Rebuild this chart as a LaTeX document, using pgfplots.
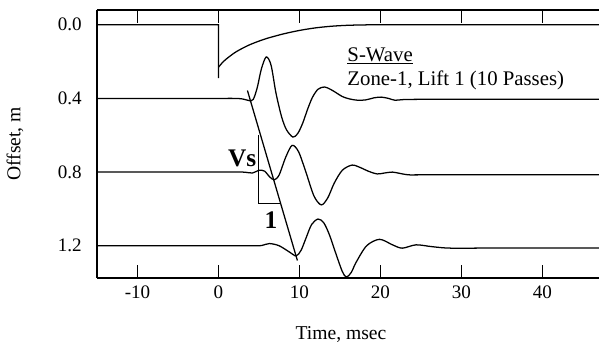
\documentclass[border=0pt]{standalone}
\usepackage{fontspec}
\setmainfont{Liberation Serif}
\usepackage{pgfplots}
\pgfplotsset{compat=1.18}
\begin{document}
\begin{tikzpicture}
\begin{axis}[
  name=ax,
  scale only axis,
  width=376.5pt, height=201pt,
  xmin=-15, xmax=47, ymin=-0.08, ymax=1.375,
  y dir=reverse,
  axis x line=box, axis y line=left,
  every non boxed y axis/.style={},
  y axis line style={-},
  xtick={-10,0,10,20,30,40}, xticklabels={-10,0,10,20,30,40},
  ytick={0,0.4,0.8,1.2}, yticklabels={0.0,0.4,0.8,1.2},
  tick align=inside,
  xtick pos=both,
  major tick length=9.75pt,
  ytick style={draw=none},
  xtick style={line width=1.1pt, black},
  axis line style={line width=1.3pt, black},
  xticklabel style={font=\fontsize{14.3}{16}\selectfont, anchor=base, inner sep=0pt, yshift=-15pt},
  yticklabel style={font=\fontsize{14.3}{16}\selectfont, anchor=east, inner sep=0pt, xshift=-11.25pt},
  every axis x label/.style={at={([yshift=-45.75pt]axis description cs:0.486,0)}, anchor=base, font=\fontsize{14.7}{17}\selectfont},
  every axis y label/.style={at={([xshift=-61.5pt]axis description cs:0,0.5)}, rotate=90, anchor=center, font=\fontsize{14.7}{17}\selectfont},
  xlabel={Time, msec},
  ylabel={Offset, m},
  clip=true,
]
% trigger trace
\addplot[black, line width=0.95pt] coordinates {(-15,0) (0,0) (0,0.29) (0.02,0.23)};
\addplot[black, line width=0.95pt, smooth] coordinates {
 (0.02,0.23) (0.5,0.205) (1,0.185) (2,0.152) (3,0.127) (4,0.106) (5,0.089) (6,0.074) (8,0.05) (10,0.031) (12,0.017) (14,0.008) (16,0.003) (18,0.001) (20,0) (30,0) (47,0)};
% 0.4 m
\addplot[black, line width=0.95pt, smooth] coordinates {
 (-15,0.4) (-5,0.4) (0,0.4) (2,0.4) (3,0.403) (3.8,0.412) (4.3,0.405) (4.8,0.34) (5.3,0.24) (5.9,0.175) (6.5,0.22) (7.1,0.37) (7.8,0.5) (8.4,0.57) (9.2,0.61) (9.8,0.59) (10.4,0.535) (11.0,0.46) (11.6,0.395) (12.3,0.35) (13.1,0.338) (13.8,0.35) (14.5,0.368) (15.3,0.39) (16.2,0.403) (17.2,0.41) (18.2,0.408) (19.2,0.397) (20.1,0.393) (21.0,0.4) (21.8,0.41) (23,0.406) (26,0.405) (35,0.405) (47,0.405)};
% 0.8 m
\addplot[black, line width=0.95pt, smooth] coordinates {
 (-15,0.8) (0,0.8) (3,0.8) (4.2,0.805) (5.0,0.79) (5.7,0.795) (6.3,0.825) (6.9,0.842) (7.5,0.815) (8.3,0.72) (9.1,0.655) (9.9,0.69) (10.8,0.8) (11.8,0.93) (12.7,0.978) (13.5,0.94) (14.3,0.86) (15.3,0.79) (16.5,0.762) (17.5,0.775) (18.5,0.795) (19.6,0.81) (20.5,0.805) (21.5,0.8) (22.5,0.808) (23.6,0.815) (26,0.815) (47,0.815)};
% 1.2 m
\addplot[black, line width=0.95pt, smooth] coordinates {
 (-15,1.2) (0,1.2) (4.5,1.2) (5.4,1.198) (6.3,1.188) (7.5,1.2) (8.8,1.235) (9.6,1.255) (10.2,1.225) (10.8,1.16) (11.5,1.085) (12.3,1.055) (13.0,1.075) (13.7,1.14) (14.6,1.255) (15.3,1.34) (15.8,1.37) (16.4,1.345) (17.0,1.29) (18.3,1.2) (19.9,1.165) (21.5,1.195) (22.7,1.213) (24.4,1.195) (26.4,1.205) (28.8,1.213) (35,1.212) (47,1.212)};
% Vs slope line and triangle
\addplot[black, line width=0.95pt] coordinates {(3.58,0.357) (9.75,1.28)};
\addplot[black, line width=0.95pt] coordinates {(4.94,0.6) (4.94,0.972) (7.6,0.972)};
\node[anchor=base east, inner sep=0pt, font=\fontsize{19}{22}\selectfont\bfseries] at (axis cs:4.7,0.77) {Vs};
\node[anchor=base, inner sep=0pt, font=\fontsize{19}{22}\selectfont\bfseries] at (axis cs:6.5,1.105) {1};
\node[anchor=base west, inner sep=0pt, font=\fontsize{15.6}{18}\selectfont] at (axis cs:15.9,0.198) {\underline{S-Wave}};
\node[anchor=base west, inner sep=0pt, font=\fontsize{15.6}{18}\selectfont] at (axis cs:15.9,0.329) {Zone-1, Lift 1 (10 Passes)};
\end{axis}
\pgfresetboundingbox
\path ([shift={(-72.75pt,-50.25pt)}]ax.south west) rectangle ([shift={(0pt,7.5pt)}]ax.north east);
\end{tikzpicture}
\end{document}
